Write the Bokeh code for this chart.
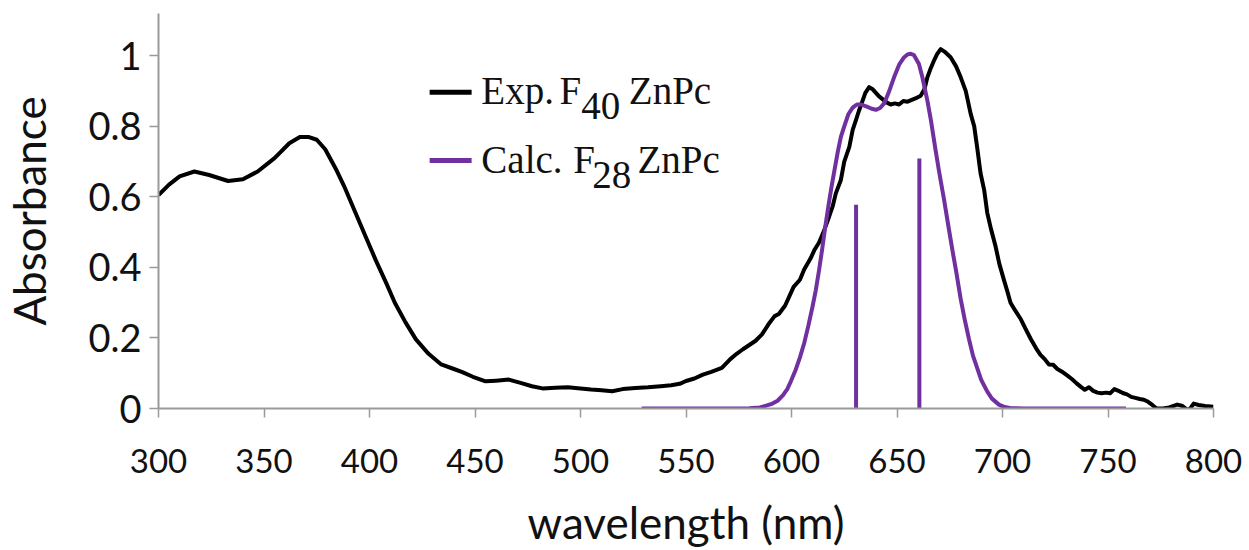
from bokeh.plotting import figure
from bokeh.models import Range1d, FixedTicker, Label
from bokeh.embed import file_html
from bokeh.resources import INLINE

# ---------------- data ----------------
exp_wl = [300, 305, 310, 317, 324, 333, 340, 347, 355, 362, 367, 371, 375, 379, 384, 388, 393, 398,
          403, 408, 412, 417, 422, 428, 434, 440, 444, 449, 455, 460, 466, 472, 477, 482, 488, 494,
          500, 505, 510, 515, 520, 526, 532, 538, 543, 547, 550, 554, 558, 562, 567, 571, 574, 577,
          580, 583, 586, 589, 592, 594, 597, 601, 604, 606, 609, 611, 613, 615, 617, 619.5, 621,
          623.4, 625, 627.4, 629, 630.5, 632, 633.7, 635, 636.8, 638.5, 640, 641.5, 643, 645, 647,
          649, 651, 653, 655, 657, 659, 661.2, 663, 664.4, 666, 667.5, 669, 670.7, 672.5, 675.4,
          678, 680.2, 682.6, 684.9, 686.6, 688, 689.6, 691.3, 692.8, 694.5, 696.7, 698.5, 700.6,
          702.4, 703.8, 706, 708.7, 711, 713.4, 716, 718, 720, 722, 724, 726, 728, 730.8, 733, 735,
          737, 739, 741, 743, 745, 747, 749, 751, 753, 755, 757, 759, 761, 763, 765, 767, 769, 771,
          773, 776, 779, 782.8, 785, 787.6, 789, 790.6, 793, 796, 800]
exp_abs = [0.605, 0.635, 0.658, 0.672, 0.662, 0.645, 0.65, 0.672, 0.71, 0.752, 0.77, 0.77, 0.762,
           0.735, 0.68, 0.63, 0.56, 0.49, 0.42, 0.355, 0.30, 0.245, 0.196, 0.155, 0.125, 0.112,
           0.103, 0.09, 0.077, 0.079, 0.082, 0.072, 0.063, 0.057, 0.059, 0.06, 0.057, 0.054, 0.052,
           0.049, 0.055, 0.058, 0.06, 0.063, 0.066, 0.07, 0.078, 0.085, 0.096, 0.104, 0.115, 0.14,
           0.155, 0.168, 0.18, 0.192, 0.21, 0.238, 0.262, 0.268, 0.292, 0.345, 0.365, 0.394, 0.425,
           0.451, 0.47, 0.498, 0.53, 0.573, 0.61, 0.648, 0.70, 0.742, 0.79, 0.817, 0.845, 0.873,
           0.895, 0.911, 0.905, 0.895, 0.885, 0.878, 0.868, 0.862, 0.865, 0.862, 0.872, 0.87, 0.875,
           0.88, 0.887, 0.905, 0.939, 0.965, 0.986, 1.005, 1.019, 1.012, 0.996, 0.97, 0.939, 0.90,
           0.836, 0.80, 0.74, 0.667, 0.62, 0.554, 0.51, 0.46, 0.41, 0.366, 0.33, 0.30, 0.278, 0.253,
           0.225, 0.197, 0.17, 0.152, 0.14, 0.125, 0.124, 0.112, 0.105, 0.093, 0.083, 0.072, 0.062,
           0.053, 0.06, 0.05, 0.045, 0.043, 0.045, 0.043, 0.055, 0.05, 0.044, 0.04, 0.033, 0.03,
           0.027, 0.025, 0.019, 0.01, 0.0, 0.0, 0.003, 0.011, 0.008, -0.004, 0.0, 0.014, 0.01,
           0.007, 0.005]

calc_wl = [529, 540, 550, 560, 570, 580, 585, 588, 591, 593.4, 596, 598, 599.7, 602, 604, 606, 608,
           610, 611.5, 613, 614.5, 616, 617.5, 619, 620.5, 622, 623.4, 625, 627, 629, 631, 633, 636,
           638, 640, 642, 644, 646, 648.6, 651, 653.4, 655, 656.5, 658, 660.4, 662, 664.4, 666,
           668.3, 670, 672.3, 674, 676.2, 678, 680.2, 682, 684.1, 686, 688.1, 690, 692.8, 695,
           698.3, 701, 704, 710, 720, 740, 758.5]
calc_abs = [0, 0, 0, 0, 0, 0.001, 0.003, 0.008, 0.014, 0.022, 0.038, 0.055, 0.077, 0.11, 0.145,
            0.185, 0.235, 0.29, 0.335, 0.39, 0.45, 0.515, 0.575, 0.63, 0.68, 0.73, 0.77, 0.80,
            0.835, 0.853, 0.862, 0.862, 0.855, 0.85, 0.847, 0.852, 0.866, 0.895, 0.939, 0.975,
            0.996, 1.004, 1.006, 1.002, 0.977, 0.94, 0.873, 0.82, 0.732, 0.67, 0.592, 0.53, 0.451,
            0.39, 0.31, 0.255, 0.197, 0.15, 0.113, 0.08, 0.048, 0.028, 0.011, 0.004, 0.001, 0, 0,
            0, 0]

stick_wl = [630.6, 660.6]
stick_abs = [0.578, 0.709]

x_ticks = [300, 350, 400, 450, 500, 550, 600, 650, 700, 750, 800]
y_ticks = [0, 0.2, 0.4, 0.6, 0.8, 1.0]
y_tick_labels = ["0", "0.2", "0.4", "0.6", "0.8", "1"]

BLACK = "#000000"
PURPLE = "#7030A0"
AXIS = "#9a9a9a"
TXT = "#111111"

p = figure(width=1249, height=550, output_backend="svg", toolbar_location=None,
           x_range=Range1d(300, 800), y_range=Range1d(0, 1.12),
           min_border_left=156, min_border_right=36, min_border_top=13, min_border_bottom=140)
p.outline_line_color = None
p.grid.visible = False
p.background_fill_color = "white"
p.border_fill_color = "white"

# curves
p.line(exp_wl, exp_abs, line_color=BLACK, line_width=4, line_join="round")
p.line(calc_wl, calc_abs, line_color=PURPLE, line_width=4, line_join="round")
p.segment(x0=stick_wl, y0=[0] * len(stick_wl), x1=stick_wl, y1=stick_abs,
          line_color=PURPLE, line_width=4)

# axes
xa = p.xaxis[0]
xa.ticker = FixedTicker(ticks=x_ticks)
xa.minor_tick_line_color = None
xa.major_tick_in = 0
xa.major_tick_out = 9
xa.axis_line_color = AXIS
xa.axis_line_width = 2
xa.major_tick_line_color = AXIS
xa.major_tick_line_width = 1.5
xa.major_label_text_font = "Lato"
xa.major_label_text_font_size = "33px"
xa.major_label_text_color = TXT
xa.major_label_standoff = 31
xa.axis_label = "wavelength (nm)"
xa.axis_label_text_font = "Lato"
xa.axis_label_text_font_size = "44px"
xa.axis_label_text_font_style = "normal"
xa.axis_label_text_color = TXT
xa.axis_label_standoff = 20

ya = p.yaxis[0]
ya.ticker = FixedTicker(ticks=y_ticks)
ya.major_label_overrides = {t: s for t, s in zip(y_ticks, y_tick_labels)}
ya.minor_tick_line_color = None
ya.major_tick_in = 0
ya.major_tick_out = 9
ya.axis_line_color = AXIS
ya.axis_line_width = 2
ya.major_tick_line_color = AXIS
ya.major_tick_line_width = 1.5
ya.major_label_text_font = "Lato"
ya.major_label_text_font_size = "38px"
ya.major_label_text_color = TXT
ya.major_label_standoff = 8
ya.axis_label = "Absorbance"
ya.axis_label_text_font = "Lato"
ya.axis_label_text_font_size = "44px"
ya.axis_label_text_font_style = "normal"
ya.axis_label_text_color = TXT
ya.axis_label_standoff = 30

# legend (drawn manually for subscripts)
p.line([428.5, 448.4], [0.897, 0.897], line_color=BLACK, line_width=5)
p.line([428.5, 448.4], [0.703, 0.703], line_color=PURPLE, line_width=5)
leg = dict(text_font="Liberation Serif", text_font_size="39px", text_color=TXT,
           text_baseline="alphabetic", text_align="left")
p.add_layout(Label(x=453.0, y=0.902, text="Exp.", **leg))
p.add_layout(Label(x=490.0, y=0.902, text="F", **leg))
p.add_layout(Label(x=500.4, y=0.858, text="40", **leg))
p.add_layout(Label(x=522.9, y=0.902, text="ZnPc", **leg))
p.add_layout(Label(x=453.0, y=0.706, text="Calc.", **leg))
p.add_layout(Label(x=496.6, y=0.706, text="F", **leg))
p.add_layout(Label(x=505.6, y=0.662, text="28", **leg))
p.add_layout(Label(x=527.0, y=0.706, text="ZnPc", **leg))

open("out.html", "w").write(file_html(p, INLINE))
